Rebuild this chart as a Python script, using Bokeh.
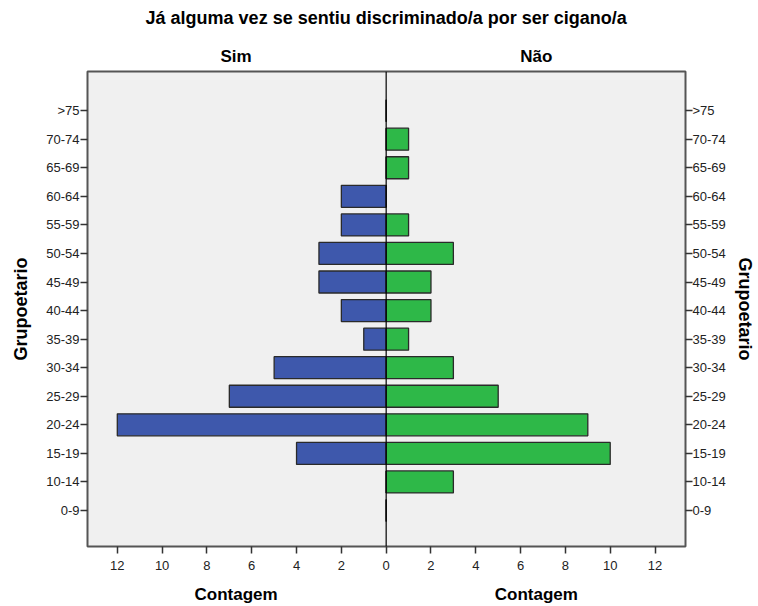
from bokeh.plotting import figure
from bokeh.models import Range1d, FixedTicker, LinearAxis, Span
from bokeh.embed import file_html
from bokeh.resources import INLINE

title_text = "Já alguma vez se sentiu discriminado/a por ser cigano/a"
groups = ["0-9", "10-14", "15-19", "20-24", "25-29", "30-34", "35-39", "40-44",
          "45-49", "50-54", "55-59", "60-64", "65-69", "70-74", ">75"]
sim = [0, 0, 4, 12, 7, 5, 1, 2, 3, 3, 2, 2, 0, 0, 0]
nao = [0, 3, 10, 9, 5, 3, 1, 2, 2, 3, 1, 0, 1, 1, 0]
x_ticks = [-12, -10, -8, -6, -4, -2, 0, 2, 4, 6, 8, 10, 12]
panel_names = ["Sim", "Não"]
panel_centers = [-6.7, 6.7]

FONT = "Liberation Sans"
ypos = list(range(len(groups)))

p = figure(width=758, height=606, output_backend="svg", toolbar_location=None,
           title=None,
           x_range=Range1d(-13.33, 13.36), y_range=Range1d(-1.26, 15.37),
           y_axis_location=None, x_axis_location=None,
           min_border_left=87, min_border_right=73,
           min_border_top=71, min_border_bottom=60)
p.background_fill_color = "#F0F0F0"
p.border_fill_color = "white"
p.outline_line_color = "#555555"
p.outline_line_width = 2
p.grid.visible = False

sim_left = [-v for v in sim]
p.hbar(y=ypos, left=sim_left, right=0, height=0.77, fill_color="#3E58AC",
       line_color="#2a2a2a", line_width=1.3)
p.hbar(y=ypos, left=0, right=nao, height=0.77, fill_color="#2EB848",
       line_color="#2a2a2a", line_width=1.3)
p.add_layout(Span(location=0, dimension="height", line_color="black", line_width=1.2))

# numeric x axis
xa = LinearAxis(ticker=FixedTicker(ticks=x_ticks),
                major_label_overrides={t: str(abs(t)) for t in x_ticks},
                minor_tick_line_color=None, axis_line_color=None,
                major_tick_in=0, major_tick_out=7, major_tick_line_color="#333333",
                major_tick_line_width=1.5, major_label_text_font=FONT,
                major_label_text_font_size="13px", major_label_text_color="#222222",
                major_label_standoff=7)
p.add_layout(xa, "below")


def text_axis(ticks, overrides, size, standoff):
    return LinearAxis(ticker=FixedTicker(ticks=ticks), major_label_overrides=overrides,
                      minor_tick_line_color=None, major_tick_line_color=None,
                      axis_line_color=None, major_tick_in=0, major_tick_out=0,
                      major_label_text_font=FONT, major_label_text_font_style="bold",
                      major_label_text_font_size=size, major_label_text_color="black",
                      major_label_standoff=standoff)


p.add_layout(text_axis(panel_centers, {c: "Contagem" for c in panel_centers}, "17px", 12), "below")
p.add_layout(text_axis(panel_centers, {c: n for c, n in zip(panel_centers, panel_names)}, "17px", 6), "above")
p.add_layout(text_axis([0], {0: title_text}, "18px", 16), "above")

labels_map = {i: g for i, g in enumerate(groups)}
for side, so, lso in (("left", 12, 1), ("right", 6, 0)):
    ax = LinearAxis(ticker=FixedTicker(ticks=ypos), major_label_overrides=labels_map,
                    axis_label="Grupoetario", axis_label_text_font=FONT,
                    axis_label_text_font_style="bold", axis_label_text_font_size="18px",
                    axis_label_text_color="black", axis_label_standoff=so,
                    major_label_text_font=FONT, major_label_text_font_size="13px",
                    major_label_text_color="#222222", major_label_standoff=lso,
                    major_tick_in=0, major_tick_out=7, major_tick_line_color="#333333",
                    major_tick_line_width=1.5, minor_tick_line_color=None,
                    axis_line_color=None)
    p.add_layout(ax, side)

open("out.html", "w").write(file_html(p, INLINE))
